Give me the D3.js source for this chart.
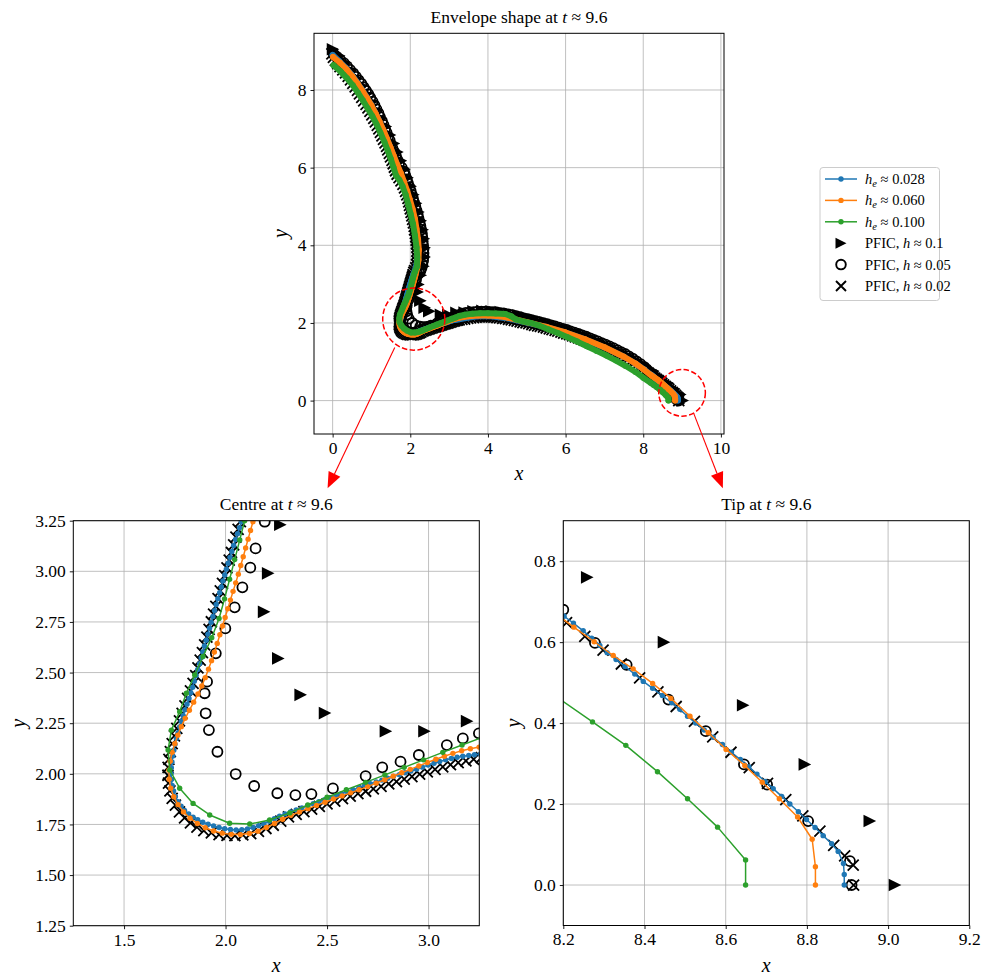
<!DOCTYPE html>
<html><head><meta charset="utf-8">
<script src="https://cdn.jsdelivr.net/npm/d3@7"></script>
<style>body{margin:0;background:#fff}</style>
</head><body>
<svg id="c" width="984" height="978" xmlns="http://www.w3.org/2000/svg"></svg>
<script>
// ---------------- DATA ----------------
const seriesNames = ["h_e ≈ 0.028", "h_e ≈ 0.060", "h_e ≈ 0.100"];
const pficNames = ["PFIC, h ≈ 0.1", "PFIC, h ≈ 0.05", "PFIC, h ≈ 0.02"];

// h_e ≈ 0.028
const blueXY = [
[0.00,8.90],[0.17,8.74],[0.34,8.57],[0.49,8.39],[0.62,8.21],[0.74,8.03],[0.86,7.84],[0.98,7.64],[1.09,7.43],[1.19,7.22],[1.29,7.00],[1.38,6.78],[1.47,6.56],[1.56,6.33],[1.65,6.10],[1.73,5.88],[1.81,5.66],[1.89,5.43],[1.96,5.20],[2.03,4.96],[2.09,4.71],[2.14,4.45],[2.18,4.18],[2.20,3.91],[2.19,3.66],[2.15,3.45],[2.11,3.33],
[2.078,3.245],[2.069,3.215],[2.059,3.186],[2.049,3.157],[2.040,3.128],[2.031,3.098],[2.022,3.069],[2.013,3.040],[2.004,3.011],[1.996,2.982],[1.987,2.952],[1.979,2.923],[1.971,2.894],[1.962,2.865],[1.954,2.836],[1.946,2.806],[1.938,2.777],[1.929,2.748],[1.921,2.719],[1.913,2.690],[1.905,2.660],[1.896,2.631],[1.888,2.602],[1.880,2.573],[1.872,2.544],[1.863,2.515],[1.855,2.486],[1.846,2.457],[1.838,2.428],[1.829,2.400],[1.820,2.372],[1.810,2.344],[1.800,2.316],[1.791,2.288],[1.782,2.260],[1.774,2.232],[1.766,2.203],[1.758,2.175],[1.751,2.146],[1.745,2.117],[1.740,2.088],[1.736,2.059],[1.733,2.030],[1.732,2.001],[1.733,1.972],[1.737,1.943],[1.744,1.915],[1.753,1.888],[1.766,1.862],[1.781,1.840],[1.798,1.819],[1.818,1.802],[1.840,1.786],[1.863,1.773],[1.888,1.761],[1.914,1.751],[1.941,1.742],[1.968,1.735],[1.996,1.729],[2.024,1.725],[2.052,1.723],[2.080,1.724],[2.108,1.728],[2.136,1.735],[2.163,1.744],[2.189,1.754],[2.215,1.766],[2.240,1.779],[2.266,1.791],[2.293,1.802],[2.320,1.812],[2.348,1.822],[2.376,1.832],[2.404,1.842],[2.432,1.852],[2.460,1.862],[2.488,1.872],[2.516,1.882],[2.544,1.892],[2.572,1.902],[2.600,1.912],[2.628,1.922],[2.657,1.932],[2.685,1.942],[2.713,1.951],[2.742,1.960],[2.770,1.969],[2.799,1.978],[2.827,1.987],[2.856,1.996],[2.884,2.005],[2.913,2.014],[2.941,2.023],[2.970,2.033],[2.998,2.043],[3.027,2.052],[3.055,2.061],[3.084,2.069],[3.112,2.076],[3.141,2.082],[3.169,2.087],[3.198,2.091],[3.226,2.094],[3.255,2.097],
[3.50,2.14],[3.75,2.17],[4.00,2.18],[4.50,2.12],[5.00,2.01],[5.50,1.895],[6.00,1.75],[6.50,1.575],[7.00,1.37],[7.50,1.13],[7.80,0.955],[8.00,0.815],
[8.202,0.664],[8.225,0.647],[8.249,0.628],[8.270,0.610],[8.290,0.592],[8.308,0.574],[8.330,0.557],[8.352,0.540],[8.376,0.521],[8.397,0.503],[8.420,0.486],[8.444,0.468],[8.467,0.450],[8.487,0.434],[8.506,0.417],[8.526,0.400],[8.547,0.383],[8.569,0.365],[8.592,0.347],[8.614,0.328],[8.636,0.310],[8.657,0.292],[8.677,0.274],[8.697,0.256],[8.717,0.238],[8.738,0.219],[8.758,0.200],[8.779,0.181],[8.799,0.162],[8.820,0.142],[8.840,0.122],[8.861,0.102],[8.877,0.083],[8.890,0.053],[8.892,0.026],[8.892,0.000]
];

// h_e ≈ 0.060
const orangeXY = [
[0.01,8.85],[0.19,8.70],[0.36,8.53],[0.51,8.35],[0.64,8.17],[0.76,7.99],[0.88,7.80],[1.00,7.60],[1.11,7.39],[1.21,7.18],[1.31,6.96],[1.40,6.74],[1.49,6.52],[1.58,6.29],[1.67,6.06],[1.76,5.85],[1.84,5.63],[1.92,5.40],[1.99,5.17],[2.06,4.93],[2.12,4.68],[2.16,4.42],[2.20,4.15],[2.22,3.88],[2.21,3.62],[2.18,3.42],
[2.135,3.245],[2.123,3.202],[2.111,3.159],[2.099,3.115],[2.087,3.072],[2.075,3.029],[2.063,2.986],[2.050,2.943],[2.037,2.901],[2.024,2.858],[2.011,2.815],[1.998,2.772],[1.985,2.730],[1.972,2.687],[1.959,2.644],[1.945,2.601],[1.931,2.559],[1.916,2.517],[1.900,2.475],[1.883,2.434],[1.864,2.394],[1.843,2.354],[1.822,2.314],[1.801,2.274],[1.782,2.233],[1.765,2.191],[1.750,2.149],[1.737,2.106],[1.727,2.062],[1.721,2.018],[1.722,1.973],[1.730,1.929],[1.745,1.887],[1.766,1.848],[1.793,1.812],[1.825,1.781],[1.861,1.755],[1.900,1.734],[1.941,1.718],[1.984,1.707],[2.028,1.701],[2.073,1.700],[2.117,1.705],[2.160,1.717],[2.201,1.735],[2.241,1.755],[2.281,1.776],[2.322,1.795],[2.364,1.812],[2.406,1.828],[2.448,1.844],[2.490,1.860],[2.532,1.876],[2.574,1.891],[2.616,1.906],[2.658,1.921],[2.700,1.937],[2.742,1.954],[2.784,1.971],[2.826,1.988],[2.868,2.005],[2.910,2.022],[2.952,2.039],[2.994,2.056],[3.036,2.072],[3.078,2.087],[3.120,2.101],[3.163,2.114],[3.206,2.124],[3.249,2.132],
[3.50,2.17],[3.75,2.19],[4.00,2.19],[4.30,2.17],[4.50,2.14],[5.00,2.02],[5.50,1.90],[6.00,1.755],[6.50,1.58],[7.00,1.375],[7.50,1.13],[7.80,0.955],[8.00,0.81],[8.178,0.672],
[8.226,0.637],[8.276,0.601],[8.323,0.567],[8.372,0.534],[8.420,0.498],[8.465,0.461],[8.512,0.417],[8.557,0.376],[8.601,0.335],[8.647,0.295],[8.690,0.254],[8.732,0.213],[8.777,0.168],[8.813,0.113],[8.821,0.045],[8.821,0.000]
];

// h_e ≈ 0.100
const greenXY = [
[0.02,8.64],[0.20,8.48],[0.37,8.30],[0.52,8.12],[0.65,7.93],[0.78,7.73],[0.90,7.53],[1.02,7.33],[1.13,7.12],[1.23,6.90],[1.33,6.67],[1.42,6.44],[1.50,6.22],[1.57,6.00],[1.63,5.80],[1.72,5.68],[1.80,5.52],[1.88,5.30],[1.95,5.05],[2.01,4.80],[2.07,4.55],[2.12,4.25],[2.16,3.95],[2.18,3.70],[2.17,3.45],[2.12,3.32],
[2.094,3.250],[2.070,3.155],[2.045,3.058],[2.020,2.961],[1.995,2.864],[1.968,2.767],[1.932,2.672],[1.889,2.580],[1.848,2.488],[1.807,2.398],[1.774,2.307],[1.733,2.216],[1.717,2.118],[1.725,2.019],[1.774,1.929],[1.840,1.854],[1.922,1.797],[2.020,1.756],[2.119,1.752],[2.217,1.772],[2.316,1.807],[2.405,1.846],[2.500,1.884],[2.595,1.921],[2.690,1.958],[2.785,1.995],[2.880,2.032],[2.975,2.069],[3.070,2.106],[3.165,2.142],[3.260,2.178],
[3.40,2.21],[3.60,2.24],[3.80,2.25],[4.00,2.25],[4.20,2.245],[4.45,2.23],[4.60,2.17],[4.72,2.09],[4.90,2.04],[5.10,2.00],[5.30,1.94],[5.55,1.84],[5.80,1.74],[6.05,1.63],[6.30,1.52],[6.55,1.40],[6.80,1.28],[7.05,1.16],[7.30,1.03],[7.55,0.89],[7.80,0.74],[8.00,0.59],
[8.190,0.460],[8.272,0.403],[8.354,0.345],[8.432,0.280],[8.506,0.213],[8.580,0.143],[8.649,0.062],[8.649,0.000]
];

// PFIC, h ≈ 0.1 (triangles)
const pficTriXY = [
[0.01,9.05],[0.17,8.88],[0.33,8.70],[0.47,8.51],[0.61,8.31],[0.75,8.11],[0.88,7.90],[1.01,7.69],[1.13,7.48],[1.25,7.27],[1.37,7.06],[1.48,6.84],[1.58,6.62],[1.67,6.40],[1.76,6.18],[1.85,5.96],[1.93,5.74],[2.01,5.52],[2.08,5.30],[2.15,5.08],[2.21,4.86],[2.27,4.63],[2.32,4.40],[2.35,4.17],[2.37,3.94],[2.37,3.70],[2.34,3.46],
[2.27,3.23],[2.21,2.99],[2.19,2.80],[2.26,2.57],[2.37,2.39],[2.49,2.30],[2.79,2.21],[2.98,2.21],[3.19,2.26],
[3.40,2.27],[3.63,2.30],[3.86,2.31],[4.10,2.30],[4.33,2.28],[4.56,2.24],[4.79,2.19],[5.02,2.13],[5.25,2.07],[5.48,2.01],[5.71,1.94],[5.93,1.87],[6.15,1.80],[6.37,1.72],[6.58,1.64],[6.79,1.55],[7.00,1.46],[7.21,1.36],[7.41,1.26],[7.61,1.15],[7.81,1.04],[8.04,0.91],
[8.259,0.760],[8.448,0.600],[8.643,0.444],[8.795,0.298],[8.955,0.158],[9.017,0.000]
];

// PFIC, h ≈ 0.05 (open circles)
const pficCircXY = [
[0.03,8.92],[0.11,8.85],[0.20,8.77],[0.29,8.69],[0.37,8.61],[0.45,8.52],[0.53,8.43],[0.60,8.34],[0.67,8.25],[0.74,8.16],[0.80,8.07],[0.86,7.98],[0.92,7.89],[0.97,7.80],[1.03,7.70],[1.08,7.60],[1.13,7.50],[1.18,7.40],[1.22,7.30],[1.27,7.20],[1.31,7.10],[1.35,7.00],[1.39,6.90],[1.43,6.80],[1.47,6.70],[1.50,6.60],[1.54,6.50],[1.59,6.40],[1.63,6.30],[1.67,6.20],[1.71,6.10],[1.78,6.00],[1.84,5.90],[1.87,5.80],[1.91,5.70],[1.94,5.60],[1.98,5.50],[2.01,5.40],[2.04,5.30],[2.07,5.20],[2.10,5.10],[2.13,5.00],[2.16,4.90],[2.19,4.80],[2.21,4.70],[2.24,4.60],[2.26,4.50],[2.28,4.40],[2.30,4.30],[2.31,4.20],[2.32,4.10],[2.33,4.00],[2.34,3.90],[2.34,3.80],[2.34,3.70],[2.33,3.60],[2.31,3.50],[2.29,3.42],[2.26,3.34],[2.23,3.29],
[2.193,3.245],[2.148,3.113],[2.122,3.018],[2.083,2.921],[2.045,2.822],[1.999,2.718],[1.952,2.595],[1.909,2.455],[1.897,2.398],[1.902,2.299],[1.918,2.216],[1.960,2.109],[2.050,1.999],[2.141,1.940],[2.255,1.904],[2.344,1.895],[2.423,1.900],[2.529,1.928],[2.690,1.989],[2.772,2.032],[2.862,2.060],[2.952,2.093],[3.090,2.142],[3.169,2.175],[3.248,2.200],
[3.33,2.24],[3.43,2.26],[3.53,2.27],[3.63,2.28],[3.73,2.29],[3.83,2.29],[3.93,2.29],[4.03,2.285],[4.13,2.28],[4.23,2.27],[4.33,2.255],[4.43,2.24],[4.53,2.22],[4.63,2.20],[4.73,2.175],[4.83,2.15],[4.93,2.12],[5.03,2.095],[5.13,2.07],[5.23,2.045],[5.33,2.02],[5.43,1.995],[5.53,1.97],[5.63,1.94],[5.73,1.91],[5.83,1.88],[5.93,1.85],[6.03,1.82],[6.13,1.785],[6.23,1.75],[6.33,1.715],[6.43,1.68],[6.53,1.645],[6.63,1.605],[6.73,1.565],[6.83,1.525],[6.93,1.48],[7.03,1.44],[7.13,1.395],[7.23,1.35],[7.33,1.30],[7.43,1.25],[7.53,1.20],[7.63,1.14],[7.73,1.08],[7.83,1.01],[7.93,0.94],[8.03,0.86],[8.12,0.77],[8.20,0.68],
[8.278,0.598],[8.356,0.544],[8.459,0.458],[8.551,0.380],[8.645,0.298],[8.702,0.248],[8.803,0.158],[8.906,0.059],[8.910,0.000]
];

// PFIC, h ≈ 0.02 (crosses)
const pficCrossXY = [
[-0.02,8.93],[0.02,8.84],[0.07,8.76],[0.13,8.68],[0.19,8.60],[0.26,8.52],[0.33,8.44],[0.40,8.35],[0.46,8.26],[0.52,8.17],[0.58,8.08],[0.64,7.99],[0.69,7.90],[0.75,7.81],[0.80,7.72],[0.86,7.63],[0.91,7.54],[0.96,7.45],[1.01,7.36],[1.06,7.27],[1.10,7.18],[1.15,7.09],[1.19,7.00],[1.23,6.91],[1.27,6.82],[1.31,6.73],[1.35,6.64],[1.39,6.55],[1.42,6.46],[1.46,6.37],[1.49,6.28],[1.53,6.19],[1.56,6.10],[1.59,6.01],[1.62,5.92],[1.66,5.83],[1.71,5.74],[1.76,5.66],[1.81,5.57],[1.85,5.48],[1.88,5.39],[1.91,5.30],[1.94,5.21],[1.96,5.12],[1.98,5.03],[2.00,4.94],[2.02,4.85],[2.04,4.76],[2.06,4.67],[2.08,4.58],[2.10,4.49],[2.11,4.40],[2.13,4.31],[2.14,4.22],[2.15,4.13],[2.16,4.04],[2.17,3.95],[2.18,3.86],[2.18,3.77],[2.18,3.68],[2.17,3.59],[2.16,3.50],[2.14,3.42],[2.11,3.35],[2.09,3.30],
[2.073,3.245],[2.062,3.207],[2.051,3.169],[2.040,3.131],[2.029,3.093],[2.018,3.055],[2.007,3.017],[1.996,2.979],[1.985,2.941],[1.974,2.903],[1.963,2.865],[1.952,2.827],[1.941,2.789],[1.930,2.751],[1.919,2.713],[1.908,2.675],[1.897,2.637],[1.886,2.599],[1.875,2.561],[1.864,2.523],[1.853,2.485],[1.840,2.447],[1.827,2.410],[1.813,2.373],[1.800,2.336],[1.786,2.299],[1.773,2.262],[1.760,2.225],[1.748,2.187],[1.737,2.149],[1.728,2.110],[1.721,2.071],[1.717,2.032],[1.716,1.993],[1.719,1.954],[1.726,1.916],[1.737,1.879],[1.753,1.845],[1.773,1.812],[1.798,1.783],[1.827,1.758],[1.859,1.737],[1.893,1.720],[1.930,1.708],[1.968,1.700],[2.007,1.696],[2.046,1.695],[2.085,1.698],[2.124,1.705],[2.162,1.716],[2.199,1.730],[2.235,1.746],[2.272,1.766],[2.310,1.787],[2.348,1.800],[2.386,1.813],[2.424,1.826],[2.462,1.839],[2.500,1.852],[2.538,1.865],[2.576,1.878],[2.614,1.890],[2.652,1.902],[2.690,1.914],[2.728,1.926],[2.766,1.938],[2.804,1.950],[2.842,1.962],[2.880,1.974],[2.918,1.986],[2.956,1.998],[2.994,2.010],[3.032,2.022],[3.070,2.034],[3.108,2.045],[3.146,2.055],[3.184,2.064],[3.222,2.072],[3.260,2.080],
[3.33,2.09],[3.40,2.10],[3.48,2.12],[3.55,2.13],[3.63,2.14],[3.70,2.15],[3.78,2.155],[3.85,2.16],[3.93,2.16],[4.00,2.16],[4.08,2.155],[4.15,2.15],[4.23,2.14],[4.30,2.13],[4.38,2.12],[4.45,2.11],[4.53,2.095],[4.60,2.08],[4.68,2.065],[4.75,2.05],[4.83,2.03],[4.90,2.01],[4.98,2.00],[5.05,1.98],[5.13,1.96],[5.20,1.94],[5.28,1.925],[5.35,1.91],[5.43,1.89],[5.50,1.87],[5.58,1.85],[5.65,1.83],[5.73,1.81],[5.80,1.79],[5.88,1.765],[5.95,1.74],[6.03,1.72],[6.10,1.70],[6.18,1.67],[6.25,1.64],[6.33,1.615],[6.40,1.59],[6.48,1.56],[6.55,1.53],[6.63,1.50],[6.70,1.47],[6.78,1.44],[6.85,1.41],[6.93,1.38],[7.00,1.35],[7.08,1.315],[7.15,1.28],[7.23,1.245],[7.30,1.21],[7.38,1.175],[7.45,1.14],[7.53,1.10],[7.60,1.06],[7.68,1.015],[7.75,0.975],[7.83,0.92],[7.90,0.87],[7.98,0.81],[8.05,0.765],[8.13,0.705],
[8.208,0.648],[8.253,0.614],[8.298,0.580],[8.343,0.546],[8.388,0.512],[8.433,0.477],[8.478,0.441],[8.523,0.404],[8.568,0.366],[8.613,0.328],[8.658,0.290],[8.703,0.251],[8.748,0.211],[8.790,0.171],[8.832,0.133],[8.866,0.098],[8.893,0.072],[8.914,0.049],[8.915,0.000]
];

// tick values
const topXTicks = [0, 2, 4, 6, 8, 10];
const topYTicks = [0, 2, 4, 6, 8];
const centreXTicks = [1.5, 2.0, 2.5, 3.0];
const centreYTicks = [1.25, 1.50, 1.75, 2.00, 2.25, 2.50, 2.75, 3.00, 3.25];
const tipXTicks = [8.2, 8.4, 8.6, 8.8, 9.0, 9.2];
const tipYTicks = [0.0, 0.2, 0.4, 0.6, 0.8];

// zoom markers (top-panel data coordinates)
const zoomRings = [[2.09, 2.10, 0.80], [9.00, 0.20, 0.60]];
const zoomArrows = [[1.60, 1.37, -0.13, -2.26], [9.30, -0.33, 10.05, -2.26]];

// ---------------- DRAW ----------------
const FONT = '"Liberation Serif","DejaVu Serif",serif';
const colors = ["#1f77b4", "#ff7f0e", "#2ca02c"];
const series = [blueXY, orangeXY, greenXY];
const svg = d3.select("#c");
const defs = svg.append("defs");

const triPath = s => `M${s},0L${-s},${-s}L${-s},${s}Z`;
const crossPath = s => `M${-s},${-s}L${s},${s}M${-s},${s}L${s},${-s}`;

const panels = [
  {xd:[-0.48,10.08], yd:[-0.86,9.46], l:314, r:724, t:33.3, b:434, xt:topXTicks, yt:topYTicks,
   xf:d3.format("d"), yf:d3.format("d"), title:"Envelope shape at ", lw:6, dr:3, ylx:280},
  {xd:[1.25,3.25], yd:[1.25,3.25], l:73.3, r:479.3, t:520.7, b:925.7, xt:centreXTicks, yt:centreYTicks,
   xf:d3.format(".1f"), yf:d3.format(".2f"), title:"Centre at ", lw:1.5, dr:2.7, ylx:18},
  {xd:[8.2,9.2], yd:[-0.1,0.9], l:563.3, r:969.3, t:520.7, b:925.5, xt:tipXTicks, yt:tipYTicks,
   xf:d3.format(".1f"), yf:d3.format(".1f"), title:"Tip at ", lw:1.5, dr:2.7, ylx:513}
];

let topScales = null;
panels.forEach((p, i) => {
  const x = d3.scaleLinear().domain(p.xd).range([p.l, p.r]);
  const y = d3.scaleLinear().domain(p.yd).range([p.b, p.t]);
  if (i === 0) topScales = {x, y};
  const g = svg.append("g");
  // grid
  g.selectAll(null).data(p.xt).join("line")
    .attr("x1", d => x(d)).attr("x2", d => x(d)).attr("y1", p.t).attr("y2", p.b)
    .attr("stroke", "#b0b0b0").attr("stroke-width", 0.8);
  g.selectAll(null).data(p.yt).join("line")
    .attr("y1", d => y(d)).attr("y2", d => y(d)).attr("x1", p.l).attr("x2", p.r)
    .attr("stroke", "#b0b0b0").attr("stroke-width", 0.8);
  // clip
  const cid = "clip" + i;
  defs.append("clipPath").attr("id", cid).append("rect")
    .attr("x", p.l).attr("y", p.t).attr("width", p.r - p.l).attr("height", p.b - p.t);
  const dg = g.append("g").attr("clip-path", `url(#${cid})`);
  // PFIC markers
  dg.selectAll(null).data(pficTriXY).join("path")
    .attr("d", triPath(6.3)).attr("fill", "#000")
    .attr("transform", d => `translate(${x(d[0])},${y(d[1])})`);
  dg.selectAll(null).data(pficCircXY).join("circle")
    .attr("cx", d => x(d[0])).attr("cy", d => y(d[1])).attr("r", 5)
    .attr("fill", "none").attr("stroke", "#000").attr("stroke-width", 1.8);
  dg.selectAll(null).data(pficCrossXY).join("path")
    .attr("d", crossPath(5.5)).attr("stroke", "#000").attr("stroke-width", 1.8).attr("fill", "none")
    .attr("transform", d => `translate(${x(d[0])},${y(d[1])})`);
  // FE series
  const line = d3.line().x(d => x(d[0])).y(d => y(d[1]));
  series.forEach((s, k) => {
    dg.append("path").datum(s).attr("d", line).attr("fill", "none")
      .attr("stroke", colors[k]).attr("stroke-width", p.lw)
      .attr("stroke-linejoin", "round").attr("stroke-linecap", "round");
    dg.selectAll(null).data(s).join("circle")
      .attr("cx", d => x(d[0])).attr("cy", d => y(d[1])).attr("r", p.dr).attr("fill", colors[k]);
  });
  // spines
  g.append("rect").attr("x", p.l).attr("y", p.t).attr("width", p.r - p.l).attr("height", p.b - p.t)
    .attr("fill", "none").attr("stroke", "#000").attr("stroke-width", 1);
  // axes
  const ax = g.append("g").attr("transform", `translate(0,${p.b})`)
    .call(d3.axisBottom(x).tickValues(p.xt).tickFormat(p.xf).tickSize(3.5).tickPadding(4));
  const ay = g.append("g").attr("transform", `translate(${p.l},0)`)
    .call(d3.axisLeft(y).tickValues(p.yt).tickFormat(p.yf).tickSize(3.5).tickPadding(4));
  [ax, ay].forEach(a => {
    a.select(".domain").remove();
    a.attr("font-family", FONT).attr("font-size", 17.5);
    a.selectAll("line").attr("stroke", "#000").attr("stroke-width", 0.9);
    a.selectAll("text").attr("fill", "#000");
  });
  // axis labels
  g.append("text").attr("x", (p.l + p.r) / 2).attr("y", p.b + 46).attr("text-anchor", "middle")
    .attr("font-family", FONT).attr("font-size", 20).attr("font-style", "italic").text("x");
  g.append("text").attr("transform", `translate(${p.ylx},${(p.t + p.b) / 2}) rotate(-90)`)
    .attr("text-anchor", "middle").attr("dominant-baseline", "central")
    .attr("font-family", FONT).attr("font-size", 20).attr("font-style", "italic").text("y");
  // title
  const tt = g.append("text").attr("x", (p.l + p.r) / 2).attr("y", p.t - 10.5)
    .attr("text-anchor", "middle").attr("font-family", FONT).attr("font-size", 17.5);
  tt.append("tspan").text(p.title);
  tt.append("tspan").attr("font-style", "italic").text("t");
  tt.append("tspan").text(" ≈ 9.6");
});

// zoom rings and arrows on top panel
const tx = topScales.x, ty = topScales.y;
const pxPerUnit = tx(1) - tx(0);
svg.append("g").selectAll(null).data(zoomRings).join("circle")
  .attr("cx", d => tx(d[0])).attr("cy", d => ty(d[1])).attr("r", d => d[2] * pxPerUnit)
  .attr("fill", "none").attr("stroke", "#ff0000").attr("stroke-width", 1.5).attr("stroke-dasharray", "5.5,2.4");
zoomArrows.forEach(a => {
  const x1 = tx(a[0]), y1 = ty(a[1]), x2 = tx(a[2]), y2 = ty(a[3]);
  const L = Math.hypot(x2 - x1, y2 - y1), ux = (x2 - x1) / L, uy = (y2 - y1) / L;
  const hl = 16, hw = 6.5;
  const bx = x2 - ux * hl, by = y2 - uy * hl;
  svg.append("line").attr("x1", x1).attr("y1", y1).attr("x2", bx).attr("y2", by)
    .attr("stroke", "#ff0000").attr("stroke-width", 1.1);
  svg.append("path").attr("d", `M${x2},${y2}L${bx - uy * hw},${by + ux * hw}L${bx + uy * hw},${by - ux * hw}Z`)
    .attr("fill", "#ff0000");
});

// legend
const lg = svg.append("g").attr("transform", "translate(820,167.5)");
lg.append("rect").attr("x", 0).attr("y", 0).attr("width", 119.5).attr("height", 133).attr("rx", 3)
  .attr("fill", "#fff").attr("fill-opacity", 0.8).attr("stroke", "#cccccc").attr("stroke-width", 1);
const rowY = i => 11.5 + i * 21.4;
seriesNames.forEach((nm, i) => {
  const r = lg.append("g").attr("transform", `translate(0,${rowY(i)})`);
  r.append("line").attr("x1", 5).attr("x2", 37).attr("stroke", colors[i]).attr("stroke-width", 1.5);
  r.append("circle").attr("cx", 21).attr("r", 2.7).attr("fill", colors[i]);
  const t = r.append("text").attr("x", 45).attr("y", 5).attr("font-family", FONT).attr("font-size", 14.5);
  const parts = nm.split("_e");
  t.append("tspan").attr("font-style", "italic").text("h");
  t.append("tspan").attr("font-style", "italic").attr("font-size", 10.5).attr("dy", 3).text("e");
  t.append("tspan").attr("dy", -3).text(parts[1]);
});
pficNames.forEach((nm, j) => {
  const i = j + 3;
  const r = lg.append("g").attr("transform", `translate(0,${rowY(i)})`);
  if (j === 0) r.append("path").attr("d", triPath(5.5)).attr("transform", "translate(21,0)").attr("fill", "#000");
  if (j === 1) r.append("circle").attr("cx", 21).attr("r", 4.8).attr("fill", "none").attr("stroke", "#000").attr("stroke-width", 1.9);
  if (j === 2) r.append("path").attr("d", crossPath(5)).attr("transform", "translate(21,0)").attr("stroke", "#000").attr("stroke-width", 1.9);
  const t = r.append("text").attr("x", 45).attr("y", 5).attr("font-family", FONT).attr("font-size", 14.5);
  const idx = nm.indexOf("h");
  t.append("tspan").text(nm.slice(0, idx));
  t.append("tspan").attr("font-style", "italic").text("h");
  t.append("tspan").text(nm.slice(idx + 1));
});
</script>
</body></html>
